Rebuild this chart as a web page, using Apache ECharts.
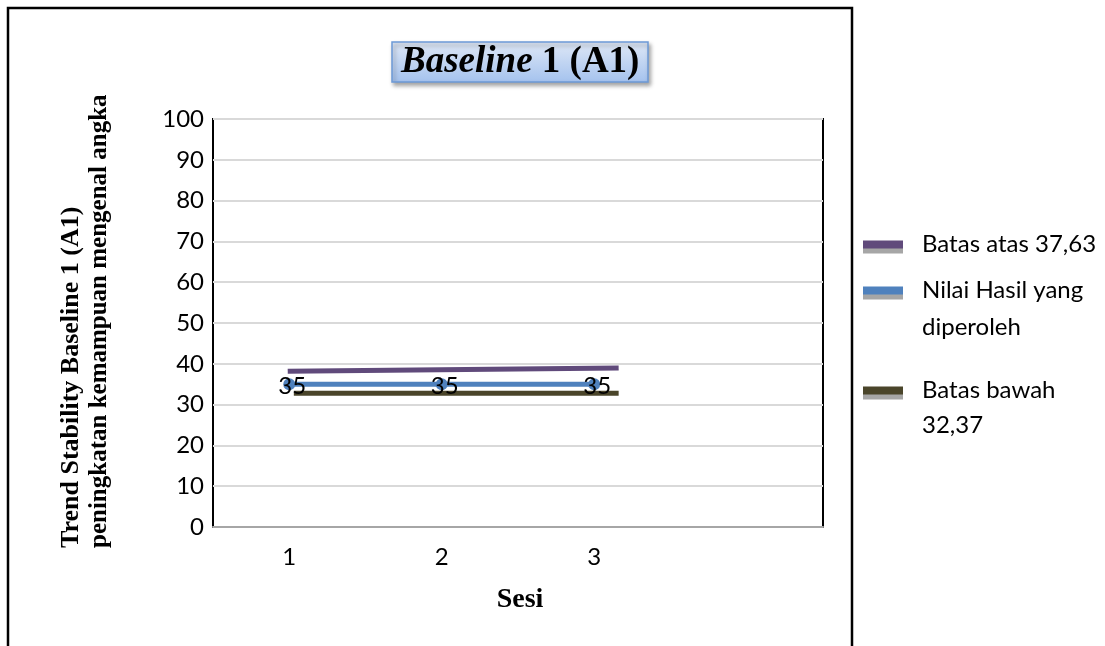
<!DOCTYPE html>
<html>
<head>
<meta charset="utf-8">
<script src="https://cdn.jsdelivr.net/npm/echarts@6/dist/echarts.min.js"></script>
<style>
html,body{margin:0;padding:0;background:#fff;}
#chart{width:1105px;height:646px;}
</style>
</head>
<body>
<div id="chart"></div>
<script>
// ---- data ----
const sessions = ['1', '2', '3', ''];
const nilaiHasil = [35, 35, 35];
// limit lines as [session position, value]
const batasAtasLine = [[0.99, 38.2], [3.16, 39.0]];
const batasBawahLine = [[1.03, 32.8], [3.16, 32.8]];
const seriesNames = ['Batas atas 37,63', 'Nilai Hasil yang\ndiperoleh', 'Batas bawah\n32,37'];
const yMin = 0, yMax = 100, yStep = 10;

const chart = echarts.init(document.getElementById('chart'), null, {renderer: 'canvas'});
const sans = 'Lato';
const serif = 'Liberation Serif';
const legendShadow = {shadowColor: '#a6a6a6', shadowOffsetY: 5, shadowBlur: 0, shadowOffsetX: 0};
const firstLineOnIcon = function (name) { return '\n' + name; };

const option = {
  backgroundColor: '#fff',
  animation: false,
  title: {
    text: '{i|Baseline} {b|1 (A1)}',
    left: 392, top: 40,
    padding: [2, 9, 2, 9],
    backgroundColor: new echarts.graphic.LinearGradient(0, 0, 0, 1, [
      {offset: 0, color: '#dfe8f6'}, {offset: 1, color: '#a4c2ee'}]),
    borderColor: '#6c99d6', borderWidth: 1.5,
    shadowColor: 'rgba(0,0,0,0.35)', shadowBlur: 4, shadowOffsetX: 2, shadowOffsetY: 3,
    textStyle: {
      fontFamily: serif, fontSize: 37, fontWeight: 'bold', color: '#000',
      rich: {
        i: {fontFamily: serif, fontSize: 37, fontWeight: 'bold', fontStyle: 'italic', color: '#000', lineHeight: 40},
        b: {fontFamily: serif, fontSize: 37, fontWeight: 'bold', color: '#000', lineHeight: 40}
      }
    }
  },
  legend: [
    {
      data: [seriesNames[0]], orient: 'vertical', left: 863, top: 226, padding: 0,
      icon: 'rect', itemWidth: 40, itemHeight: 8, itemStyle: legendShadow,
      textStyle: {fontFamily: sans, fontSize: 24, color: '#000', lineHeight: 37, padding: [0, 0, 0, 14]}
    },
    {
      data: [seriesNames[1]], orient: 'vertical', left: 863, top: 235, padding: 0,
      icon: 'rect', itemWidth: 40, itemHeight: 8, itemStyle: legendShadow,
      formatter: firstLineOnIcon,
      textStyle: {fontFamily: sans, fontSize: 24, color: '#000', lineHeight: 37, padding: [0, 0, 0, 14]}
    },
    {
      data: [seriesNames[2]], orient: 'vertical', left: 863, top: 338, padding: 0,
      icon: 'rect', itemWidth: 40, itemHeight: 8, itemStyle: legendShadow,
      formatter: firstLineOnIcon,
      textStyle: {fontFamily: sans, fontSize: 24, color: '#000', lineHeight: 35, padding: [0, 0, 0, 14]}
    }
  ],
  grid: {
    left: 213, top: 119, right: 282, bottom: 119,
    show: true, borderColor: '#000', borderWidth: 2, backgroundColor: '#fff'
  },
  xAxis: [
    {
      type: 'category', data: sessions, boundaryGap: true,
      axisLine: {show: true, lineStyle: {color: '#a6a6a6', width: 2}},
      axisTick: {show: false},
      axisLabel: {fontFamily: sans, fontSize: 24, color: '#000', margin: 18},
      splitLine: {show: false}
    },
    {
      type: 'value', min: 0.5, max: 4.5, show: false,
      splitLine: {show: false}
    }
  ],
  yAxis: {
    type: 'value', min: yMin, max: yMax, interval: yStep,
    axisLine: {show: false}, axisTick: {show: false},
    axisLabel: {fontFamily: sans, fontSize: 24, color: '#000', margin: 9},
    splitLine: {show: true, lineStyle: {color: '#d9d9d9', width: 2}}
  },
  series: [
    {
      name: seriesNames[0], type: 'line', xAxisIndex: 1, data: batasAtasLine,
      symbol: 'none', color: '#604a7b',
      lineStyle: {color: '#604a7b', width: 5}, z: 3
    },
    {
      name: seriesNames[1], type: 'line', xAxisIndex: 0, data: nilaiHasil,
      symbol: 'circle', symbolSize: 12, color: '#4f81bd',
      itemStyle: {color: '#4f81bd'},
      lineStyle: {color: '#4f81bd', width: 5}, z: 4,
      label: {show: true, position: 'inside', offset: [3, 2], fontFamily: sans, fontSize: 24, color: '#000'}
    },
    {
      name: seriesNames[2], type: 'line', xAxisIndex: 1, data: batasBawahLine,
      symbol: 'none', color: '#4a452a',
      lineStyle: {color: '#4a452a', width: 5}, z: 3
    }
  ],
  graphic: [
    {
      type: 'rect', z: -10, silent: true,
      shape: {x: 8, y: 8, width: 844, height: 680},
      style: {fill: 'none', stroke: '#000', lineWidth: 2.5}
    },
    {
      type: 'text', x: 71, y: 548, rotation: Math.PI / 2,
      style: {text: 'Trend Stability Baseline 1 (A1)', fontFamily: serif, fontSize: 26, fontWeight: 'bold',
        fill: '#000', align: 'left', verticalAlign: 'middle'}
    },
    {
      type: 'text', x: 100, y: 548, rotation: Math.PI / 2,
      style: {text: 'peningkatan kemampuan mengenal angka', fontFamily: serif, fontSize: 25, fontWeight: 'bold',
        fill: '#000', align: 'left', verticalAlign: 'middle'}
    },
    {
      type: 'text', x: 520, y: 600,
      style: {text: 'Sesi', fontFamily: serif, fontSize: 28, fontWeight: 'bold',
        fill: '#000', align: 'center', verticalAlign: 'middle'}
    }
  ]
};
chart.setOption(option);
</script>
</body>
</html>
